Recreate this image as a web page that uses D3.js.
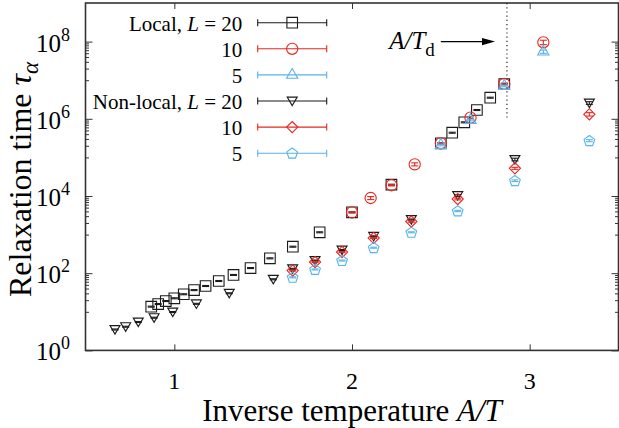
<!DOCTYPE html>
<html>
<head>
<meta charset="utf-8">
<script src="https://cdn.jsdelivr.net/npm/d3@7"></script>
<style>
  html, body { margin: 0; padding: 0; background: #fff; }
  svg { display: block; }
  text { font-family: "Liberation Serif", "Times New Roman", serif; fill: #000; }
</style>
</head>
<body>
<svg id="chart" width="619" height="428"></svg>
<script>
// ---- data: relaxation time tau_alpha versus inverse temperature A/T ----
// Local dynamics
const localL20X   = [0.870, 0.909, 0.952, 1.000, 1.053, 1.111, 1.176, 1.250, 1.333, 1.429, 1.538, 1.667, 1.818, 2.000, 2.222, 2.500, 2.564, 2.632, 2.703, 2.778, 2.857];
const localL20Tau = [13.6, 15.9, 19.0, 22.4, 28.5, 36.5, 46.6, 62.8, 90, 136, 243, 486, 1148, 3780, 19600, 2.32e5, 4.36e5, 8.1e5, 1.69e6, 3.52e6, 7.97e6];
const localL20Err = [0.03, 0.03, 0.03, 0.03, 0.03, 0.03, 0.03, 0.03, 0.03, 0.03, 0.03, 0.03, 0.03, 0.03, 0.03, 0.03, 0.03, 0.03, 0.03, 0.03, 0.03];

const localL10X   = [2.000, 2.105, 2.222, 2.353, 2.500, 2.667, 2.857, 3.077];
const localL10Tau = [3780, 8870, 19000, 66200, 2.32e5, 1.07e6, 8.0e6, 9.6e7];
const localL10Err = [0.03, 0.09, 0.04, 0.09, 0.04, 0.05, 0.05, 0.13];

const localL5X   = [2.500, 2.667, 2.857, 3.077];
const localL5Tau = [2.1e5, 9.3e5, 7.1e6, 5.5e7];
const localL5Err = [0.05, 0.05, 0.05, 0.10];

// Non-local dynamics
const nonlocalL20X   = [0.666, 0.726, 0.797, 0.886, 0.991, 1.124, 1.309, 1.557, 1.666, 1.792, 1.944, 2.122, 2.334, 2.595, 2.917, 3.336];
const nonlocalL20Tau = [3.48, 4.11, 5.44, 7.03, 9.88, 16.1, 30.2, 69.5, 130, 213, 399, 903, 2460, 10300, 88300, 2.57e6];
const nonlocalL20Err = [0.03, 0.03, 0.03, 0.03, 0.03, 0.03, 0.03, 0.03, 0.03, 0.03, 0.03, 0.03, 0.03, 0.05, 0.08, 0.08];

const nonlocalL10X   = [1.666, 1.792, 1.944, 2.122, 2.334, 2.595, 2.917, 3.336];
const nonlocalL10Tau = [117, 195, 354, 817, 2185, 8360, 52200, 1.31e6];
const nonlocalL10Err = [0.03, 0.03, 0.03, 0.03, 0.04, 0.05, 0.06, 0.10];

const nonlocalL5X   = [1.666, 1.792, 1.944, 2.122, 2.334, 2.595, 2.917, 3.336];
const nonlocalL5Tau = [78, 125, 213, 458, 1147, 4090, 24900, 2.71e5];
const nonlocalL5Err = [0.03, 0.03, 0.03, 0.03, 0.03, 0.04, 0.05, 0.06];

// legend labels and axis ticks
const legendPrefix = ["Local, ", "", "", "Non-local, ", "", ""];
const legendSizes  = ["20", "10", "5", "20", "10", "5"];
const legendShowL  = [true, false, false, true, false, false];
const xTicks = [1, 2, 3];
const yTickExponents = [0, 2, 4, 6, 8];
const dynamicTransition = 2.872;   // A/T_d

// ---- layout ----
const svg = d3.select("#chart");
const plot = { left: 85.5, right: 618.5, top: 3, bottom: 350.4 };
const x = d3.scaleLinear().domain([0.5, 3.5]).range([plot.left, plot.right]);
const y = d3.scaleLog().domain([1, 1e9]).range([plot.bottom, plot.top]);

const BLACK = "#1a1a1a", RED = "#e8261f", BLUE = "#56b4e9";

// marker shapes, centred on the origin
const shapes = {
  square:   () => "M-5.3,-5.3H5.3V5.3H-5.3Z",
  circle:   () => "M5.6,0A5.6,5.6 0 1,1 -5.6,0A5.6,5.6 0 1,1 5.6,0Z",
  triUp:    () => "M0,-6.4L5.6,3.4L-5.6,3.4Z",
  triDown:  () => "M-5,-3.9L5,-3.9L0,4.6Z",
  diamond:  () => "M0,-5.6L5.6,0L0,5.6L-5.6,0Z",
  pentagon: () => {
    const r = 5.6, pts = [];
    for (let i = 0; i < 5; i++) {
      const a = -Math.PI / 2 + i * 2 * Math.PI / 5;
      pts.push([r * Math.cos(a), r * Math.sin(a) + 0.4]);
    }
    return "M" + pts.map(p => p.map(v => v.toFixed(2)).join(",")).join("L") + "Z";
  }
};

const series = [
  { xs: localL20X,    ts: localL20Tau,    es: localL20Err,    color: BLACK, shape: "square" },
  { xs: localL10X,    ts: localL10Tau,    es: localL10Err,    color: RED,   shape: "circle" },
  { xs: localL5X,     ts: localL5Tau,     es: localL5Err,     color: BLUE,  shape: "triUp" },
  { xs: nonlocalL20X, ts: nonlocalL20Tau, es: nonlocalL20Err, color: BLACK, shape: "triDown" },
  { xs: nonlocalL10X, ts: nonlocalL10Tau, es: nonlocalL10Err, color: RED,   shape: "diamond" },
  { xs: nonlocalL5X,  ts: nonlocalL5Tau,  es: nonlocalL5Err,  color: BLUE,  shape: "pentagon" }
];

// ---- axes (ticks point inward) ----
const tickStyle = g => {
  g.select(".domain").remove();
  g.selectAll(".tick line").attr("stroke", "#333").attr("stroke-width", 1);
};

const yMajor = yTickExponents.map(e => Math.pow(10, e));
const yMinor = y.ticks().filter(v => {
  const e = Math.floor(Math.log10(v) + 1e-9);
  return e % 2 === 1 && v < 1e9;
});

svg.append("g").attr("transform", `translate(0,${plot.bottom})`)
  .call(d3.axisBottom(x).tickValues(xTicks).tickSize(-6).tickFormat("")).call(tickStyle);
svg.append("g").attr("transform", `translate(0,${plot.top})`)
  .call(d3.axisTop(x).tickValues(xTicks).tickSize(-6).tickFormat("")).call(tickStyle);
svg.append("g").attr("transform", `translate(${plot.left},0)`)
  .call(d3.axisLeft(y).tickValues(yMajor).tickSize(-7).tickFormat("")).call(tickStyle);
svg.append("g").attr("transform", `translate(${plot.left},0)`)
  .call(d3.axisLeft(y).tickValues(yMinor).tickSize(-3.5).tickFormat("")).call(tickStyle);
svg.append("g").attr("transform", `translate(${plot.right},0)`)
  .call(d3.axisRight(y).tickValues(yMajor).tickSize(-7).tickFormat("")).call(tickStyle);
svg.append("g").attr("transform", `translate(${plot.right},0)`)
  .call(d3.axisRight(y).tickValues(yMinor).tickSize(-3.5).tickFormat("")).call(tickStyle);

// frame
svg.append("rect")
  .attr("x", plot.left).attr("y", plot.top)
  .attr("width", plot.right - plot.left).attr("height", plot.bottom - plot.top)
  .attr("fill", "none").attr("stroke", "#333").attr("stroke-width", 1.6);

// x tick labels
svg.append("g").selectAll("text").data(xTicks).join("text")
  .attr("x", d => x(d)).attr("y", 389)
  .attr("text-anchor", "middle").attr("font-size", 24)
  .text(d => d);

// y tick labels: 10^n
const yl = svg.append("g").selectAll("text").data(yTickExponents).join("text")
  .attr("x", 70).attr("y", d => y(Math.pow(10, d)) + 10)
  .attr("text-anchor", "end").attr("font-size", 25);
yl.append("tspan").text("10");
yl.append("tspan").attr("dy", -11).attr("font-size", 18).text(d => d);

// axis titles
const xt = svg.append("text").attr("x", 352).attr("y", 421)
  .attr("text-anchor", "middle").attr("font-size", 31);
xt.append("tspan").text("Inverse temperature ");
xt.append("tspan").attr("font-style", "italic").text("A/T");

const yt = svg.append("text").attr("transform", "translate(31,297) rotate(-90)")
  .attr("text-anchor", "start").attr("font-size", 32);
yt.append("tspan").text("Relaxation time ");
yt.append("tspan").attr("font-style", "italic").text("τ");
yt.append("tspan").attr("font-style", "italic").attr("font-size", 23).attr("dy", 7).text("α");

// dynamical transition marker
svg.append("line")
  .attr("x1", x(dynamicTransition)).attr("x2", x(dynamicTransition))
  .attr("y1", y(1e9)).attr("y2", y(1e6))
  .attr("stroke", "#222").attr("stroke-width", 1.2).attr("stroke-dasharray", "1.2,3");

const arrowY = y(1e8), arrowX0 = x(2.50), arrowX1 = x(2.805);
svg.append("line").attr("x1", arrowX0).attr("x2", arrowX1 - 10).attr("y1", arrowY).attr("y2", arrowY)
  .attr("stroke", "#000").attr("stroke-width", 1.3);
svg.append("path")
  .attr("d", `M${arrowX1},${arrowY}L${arrowX1 - 13},${arrowY - 3.6}L${arrowX1 - 13},${arrowY + 3.6}Z`)
  .attr("fill", "#000");
const td = svg.append("text").attr("x", arrowX0 - 6).attr("y", arrowY + 7)
  .attr("text-anchor", "end").attr("font-size", 25);
td.append("tspan").attr("font-style", "italic").text("A/T");
td.append("tspan").attr("font-size", 19).attr("dy", 7).text("d");

// ---- data: error bars then markers ----
const capHalf = 3.5;
series.forEach(s => {
  const pts = s.xs.map((v, i) => ({ x: v, t: s.ts[i], e: s.es[i] }));
  const g = svg.append("g").attr("stroke", s.color).attr("fill", "none").attr("stroke-width", 1.1);
  const eb = g.selectAll("g.eb").data(pts).join("g").attr("class", "eb");
  eb.append("line")
    .attr("x1", d => x(d.x)).attr("x2", d => x(d.x))
    .attr("y1", d => y(d.t * (1 - d.e))).attr("y2", d => y(d.t * (1 + d.e)));
  eb.append("line")
    .attr("x1", d => x(d.x) - capHalf).attr("x2", d => x(d.x) + capHalf)
    .attr("y1", d => y(d.t * (1 - d.e))).attr("y2", d => y(d.t * (1 - d.e)));
  eb.append("line")
    .attr("x1", d => x(d.x) - capHalf).attr("x2", d => x(d.x) + capHalf)
    .attr("y1", d => y(d.t * (1 + d.e))).attr("y2", d => y(d.t * (1 + d.e)));
  g.selectAll("path").data(pts).join("path")
    .attr("transform", d => `translate(${x(d.x)},${y(d.t)})`)
    .attr("d", shapes[s.shape]());
});

// ---- legend ----
const legendRow0 = 22.7, legendStep = 26.1;
const legendTextX = 242.3, legendLine0 = 257.7, legendLine1 = 326.7;
const lg = svg.append("g");
series.forEach((s, i) => {
  const ry = legendRow0 + i * legendStep;
  const row = lg.append("g");
  const t = row.append("text").attr("x", legendTextX).attr("y", ry + 8)
    .attr("text-anchor", "end").attr("font-size", 21);
  if (legendShowL[i]) {
    t.append("tspan").text(legendPrefix[i]);
    t.append("tspan").attr("font-style", "italic").text("L");
    t.append("tspan").text(" = " + legendSizes[i]);
  } else {
    t.append("tspan").text(legendSizes[i]);
  }
  const lgG = row.append("g").attr("stroke", s.color).attr("fill", "none").attr("stroke-width", 1.1);
  lgG.append("line").attr("x1", legendLine0).attr("x2", legendLine1).attr("y1", ry).attr("y2", ry);
  lgG.append("line").attr("x1", legendLine0).attr("x2", legendLine0).attr("y1", ry - 3.5).attr("y2", ry + 3.5);
  lgG.append("line").attr("x1", legendLine1).attr("x2", legendLine1).attr("y1", ry - 3.5).attr("y2", ry + 3.5);
  lgG.append("path").attr("transform", `translate(${(legendLine0 + legendLine1) / 2},${ry})`)
    .attr("d", shapes[s.shape]());
});
</script>
</body>
</html>
